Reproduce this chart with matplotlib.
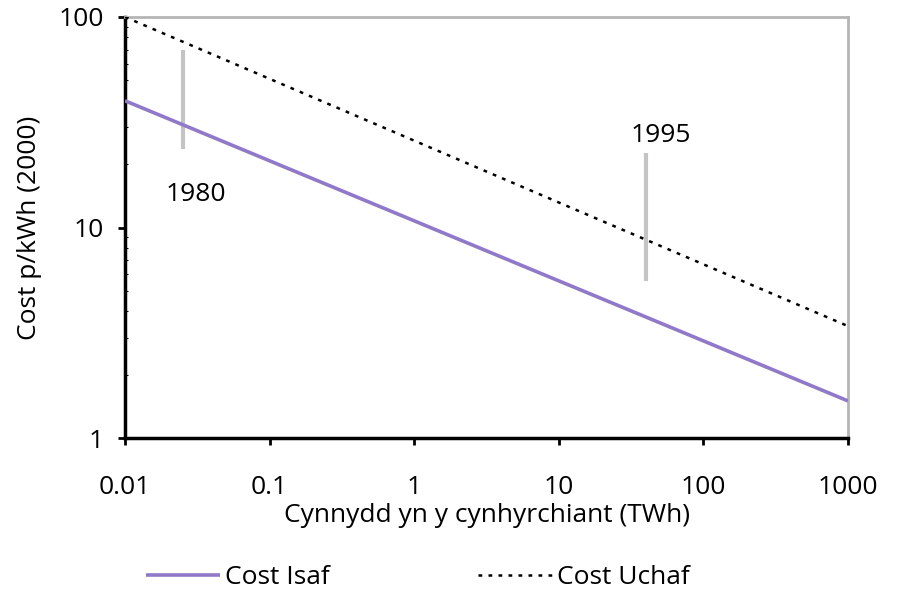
import matplotlib
matplotlib.use("Agg")
from matplotlib import pyplot as plt
from matplotlib.ticker import FixedLocator, NullFormatter

plt.rcParams['font.family'] = ['Open Sans', 'DejaVu Sans']

# data
x_ends = [0.01, 1000]
cost_isaf = [40, 1.5]
cost_uchaf = [100, 3.4]

bar_x = [0.025, 40]
bar_low = [23.5, 5.6]
bar_high = [70, 22.5]
bar_labels = ['1980', '1995']
label_pos = [(0.031, 14.3), (51, 27.5)]

x_ticks = [0.01, 0.1, 1, 10, 100, 1000]
x_tick_labels = ['0.01', '0.1', '1', '10', '100', '1000']
y_ticks = [1, 10, 100]
y_tick_labels = ['1', '10', '100']

PURPLE = '#9079c9'
GREY = '#b4b4b4'
FS = 19

fig = plt.figure(figsize=(8.98, 5.9), dpi=100)
ax = fig.add_axes([125 / 898, 1 - 438 / 590, 723 / 898, 421 / 590])
ax.set_xscale('log')
ax.set_yscale('log')
ax.set_xlim(0.01, 1000)
ax.set_ylim(1, 100)

ax.plot(x_ends, cost_isaf, color=PURPLE, lw=2.6, solid_capstyle='butt',
        label='Cost Isaf', zorder=3)
ax.plot(x_ends, cost_uchaf, color='black', lw=1.8, dashes=(1.5, 2.5),
        label='Cost Uchaf', zorder=3)

for bx, lo, hi, lab, pos in zip(bar_x, bar_low, bar_high, bar_labels, label_pos):
    ax.vlines(bx, lo, hi, color='#c4c4c4', lw=3, zorder=2)
    ax.text(pos[0], pos[1], lab, fontsize=FS, ha='center', va='center')

ax.xaxis.set_major_locator(FixedLocator(x_ticks))
ax.set_xticklabels(x_tick_labels)
ax.xaxis.set_minor_formatter(NullFormatter())
ax.yaxis.set_major_locator(FixedLocator(y_ticks))
ax.set_yticklabels(y_tick_labels)
ax.yaxis.set_minor_formatter(NullFormatter())
ax.tick_params(axis='x', which='minor', length=0)
ax.tick_params(axis='y', which='minor', length=2, direction='in', width=0.8)
ax.tick_params(axis='both', which='major', labelsize=FS, length=5, width=2)
ax.tick_params(axis='x', pad=22)
ax.tick_params(axis='y', pad=10)

for side in ['left', 'bottom']:
    ax.spines[side].set_linewidth(2.5)
    ax.spines[side].set_color('black')
for side in ['top', 'right']:
    ax.spines[side].set_linewidth(2)
    ax.spines[side].set_color(GREY)

ax.set_xlabel('Cynnydd yn y cynhyrchiant (TWh)', fontsize=FS, labelpad=2)
ax.set_ylabel('Cost p/kWh (2000)', fontsize=FS, labelpad=12)

ax.legend(loc='upper center', bbox_to_anchor=(0.405, -0.245), ncol=2,
          frameon=False, fontsize=FS, handlelength=2.8, handletextpad=0.2,
          columnspacing=5.6)

fig.savefig('out.png', dpi=100)
